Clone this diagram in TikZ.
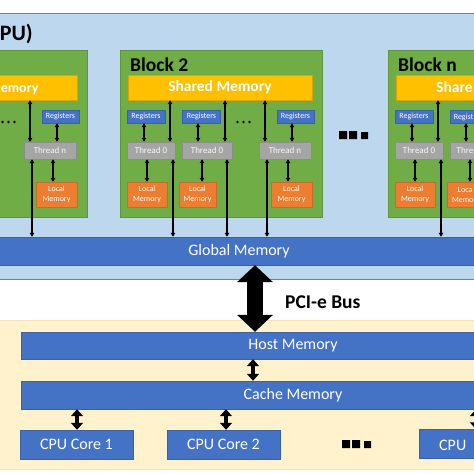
\documentclass[tikz,border=0pt]{standalone}
\usepackage{fontspec}
\setmainfont{Carlito}
\usetikzlibrary{arrows.meta}
\definecolor{panelblue}{HTML}{BDD7EE}
\definecolor{panelline}{HTML}{7F7F7F}
\definecolor{cream}{HTML}{FFF2CC}
\definecolor{creamline}{HTML}{F2E3BC}
\definecolor{ogreen}{HTML}{70AD47}
\definecolor{oyellow}{HTML}{FFC000}
\definecolor{oblue}{HTML}{4472C4}
\definecolor{ogray}{HTML}{A5A5A5}
\definecolor{oorange}{HTML}{ED7D31}
\tikzset{
  ofbox/.style={fill=#1, draw=#1!85!black, line width=0.4pt, inner sep=0pt, text=white},
  greenbox/.style={ofbox=ogreen},
  sharedfont/.style={font=\fontsize{15.5}{18}\selectfont\bfseries, text=white},
  sharedbox/.style={ofbox=oyellow, sharedfont, minimum width=184pt, minimum height=25pt},
  regfont/.style={font=\fontsize{8}{9}\selectfont, text=white},
  regbox/.style={ofbox=oblue, minimum width=38pt, minimum height=13pt, regfont},
  thrfont/.style={text=white!95!gray, font=\fontsize{9}{10}\selectfont},
  thrbox/.style={ofbox=ogray, minimum width=48pt, minimum height=17pt, thrfont},
  locfont/.style={font=\fontsize{8}{10}\selectfont, text=white},
  locbox/.style={ofbox=oorange, minimum width=40pt, minimum height=25pt, align=center, locfont},
  frag/.style={inner sep=0pt},
  barbox/.style={ofbox=oblue, font=\fontsize{16}{18}\selectfont},
  corebox/.style={ofbox=oblue, minimum width=113pt, minimum height=29pt, font=\fontsize{16}{18}\selectfont},
  tarr/.style={line width=1.2pt, {Triangle[length=4pt,width=4.5pt]}-{Triangle[length=4pt,width=4.5pt]}},
  marr/.style={line width=3.5pt, {Triangle[length=7pt,width=12pt]}-{Triangle[length=7pt,width=12pt]}},
  barr/.style={line width=16pt, {Triangle[length=17pt,width=35pt]}-{Triangle[length=17pt,width=35pt]}},
  bold label/.style={font=\fontsize{19.5}{22}\selectfont\bfseries, text=black, inner sep=0pt},
}
% column 1 of a block: nodes + arrows (prefix)
\newcommand\colOne[1]{%
  \node[regbox] (#1ra) at (146,116.5) {Registers};
  \node[thrbox] (#1ta) at (151,150.5) {Thread 0};
  \node[locbox] (#1la) at (147,194.5) {Local\\Memory};
  \coordinate (#1xra) at (144,0);  \coordinate (#1xla) at (147,0);
  \coordinate (#1xsa) at (170,0);  \coordinate (#1xga) at (173,0);
  \draw[tarr] (#1xra |- #1ra.south) -- (#1xra |- #1ta.north);
  \draw[tarr] (#1xla |- #1ta.south) -- (#1xla |- #1la.north);
  \draw[tarr] (#1xsa |- #1sh.south) -- (#1xsa |- #1ta.north);
  \draw[tarr] (#1xga |- #1ta.south) -- (#1xga |- gm.north);}
% column 2 boxes (texts given)
\newcommand\colTwo[4]{%
  \node[regbox] (#1rb) at (201.5,116.5) {#2};
  \node[thrbox, minimum width=50pt] (#1tb) at (207,150.5) {#3};
  \node[locbox, minimum width=37pt] (#1lb) at (197.5,194.5) {#4};
  \coordinate (#1xrb) at (198,0);  \coordinate (#1xlb) at (202,0);
  \coordinate (#1xsb) at (225,0);  \coordinate (#1xgb) at (227,0);
  \draw[tarr] (#1xrb |- #1rb.south) -- (#1xrb |- #1tb.north);
  \draw[tarr] (#1xlb |- #1tb.south) -- (#1xlb |- #1lb.north);
  \draw[tarr] (#1xsb |- #1sh.south) -- (#1xsb |- #1tb.north);
  \draw[tarr] (#1xgb |- #1tb.south) -- (#1xgb |- gm.north);}
% column n
\newcommand\colN[1]{%
  \node[regbox, minimum width=37pt] (#1rn) at (295.5,116.5) {Registers};
  \node[thrbox, minimum width=52pt] (#1tn) at (285,150.5) {Thread n};
  \node[locbox, minimum width=41pt] (#1ln) at (291.5,194.5) {Local\\Memory};
  \coordinate (#1xrn) at (292,0);  \coordinate (#1xln) at (288,0);
  \coordinate (#1xsn) at (265,0);  \coordinate (#1xgn) at (267,0);
  \draw[tarr] (#1xrn |- #1rn.south) -- (#1xrn |- #1tn.north);
  \draw[tarr] (#1xln |- #1tn.south) -- (#1xln |- #1ln.north);
  \draw[tarr] (#1xsn |- #1sh.south) -- (#1xsn |- #1tn.north);
  \draw[tarr] (#1xgn |- #1tn.south) -- (#1xgn |- gm.north);}
\newcommand\smalldots{\fill (237.5,122) circle (1.3pt) (243.5,122) circle (1.3pt) (249.5,122) circle (1.3pt);}
\begin{document}
\begin{tikzpicture}[x=1pt,y=-1pt]
\useasboundingbox (0,0) rectangle (474,474);
\fill[white] (0,0) rectangle (474,474);
\clip (0,0) rectangle (474,474);
% GPU panel
\node[fill=panelblue, draw=panelline, line width=0.8pt, minimum width=560pt, minimum height=266pt, inner sep=0pt] (gpu) at (237,146) {};
\node[bold label, font=\fontsize{22}{24}\selectfont\bfseries, anchor=base east] (gpulbl) at (33,40) {PU)};
% global memory
\node[barbox, minimum width=652pt, minimum height=28pt] (gm) at (239,251) {Global Memory};
% block 1 (partly visible)
\begin{scope}[xshift=-235pt]
  \node[greenbox, minimum width=202pt, minimum height=167pt] (b1g) at (221.5,134) {};
  \node[sharedbox] (b1sh) at (220,87.5) {};
  \node[sharedfont, font=\fontsize{14}{16}\selectfont\bfseries, frag, anchor=base west] (b1shtxt) at (235.6,92) {emory};
  \colN{b1}
  \smalldots
\end{scope}
% block 2
\begin{scope}
  \node[greenbox, minimum width=202pt, minimum height=167pt] (b2g) at (221.5,134) {};
  \node[bold label, anchor=base west] (b2lbl) at (130,71) {Block 2};
  \node[sharedbox] (b2sh) at (220,87.5) {Shared Memory};
  \colOne{b2}
  \colTwo{b2}{Registers}{Thread 0}{Local\\Memory}
  \colN{b2}
  \smalldots
\end{scope}
% block n (partly visible)
\begin{scope}[xshift=268pt]
  \node[greenbox, minimum width=202pt, minimum height=167pt] (bng) at (221.5,134) {};
  \node[bold label, anchor=base west] (bnlbl) at (130,71) {Block n};
  \node[sharedbox] (bnsh) at (220,87.5) {};
  \node[sharedfont, frag, anchor=base west] (bnshtxt) at (168,92) {Share};
  \colOne{bn}
  \colTwo{bn}{}{}{}
  \node[regfont, frag, anchor=base east] (bnrbtxt) at (205.5,119.5) {Regist};
  \node[thrfont, frag, anchor=base east] (bntbtxt) at (205.5,153.5) {Thre};
  \node[locfont, frag, anchor=base west] (bnlbtxt1) at (189.5,192) {Loca};
  \node[locfont, frag, anchor=base west] (bnlbtxt2) at (183.8,202) {Memo};
\end{scope}
% ellipsis between blocks
\fill (339,131) rectangle (347,139) (349,131) rectangle (357,139) (361,132) rectangle (368,139);
% CPU panel
\node[fill=cream, draw=creamline, line width=0.6pt, minimum width=560pt, minimum height=149pt, inner sep=0pt] (cpu) at (237,394.5) {};
\node[barbox, minimum width=544pt, minimum height=27pt] (hm) at (293,345.5) {Host Memory};
\node[barbox, minimum width=544pt, minimum height=28pt] (cm) at (293,395) {Cache Memory};
\node[corebox] (c1) at (76.5,444.5) {CPU Core 1};
\node[corebox] (c2) at (223.5,444.5) {CPU Core 2};
\node[corebox] (cn) at (475.5,444) {};
\node[font=\fontsize{16}{18}\selectfont, text=white, frag, anchor=base west] (cntxt) at (439,450) {CPU};
\fill (342,440) rectangle (350,448) (352,440) rectangle (360,448) (364,441) rectangle (371,448);
% arrows
\coordinate (xpci) at (255,0);
\coordinate (xhc) at (253,0);
\coordinate (xc1) at (77,0);
\coordinate (xc2) at (226,0);
\coordinate (xcn) at (476,0);
\draw[barr] (xpci |- gm.south) -- (xpci |- hm.north);
\node[bold label, anchor=base west] (pci) at (285,308) {PCI-e Bus};
\draw[marr] (xhc |- hm.south) -- (xhc |- cm.north);
\draw[marr] (xc1 |- cm.south) -- (xc1 |- c1.north);
\draw[marr] (xc2 |- cm.south) -- (xc2 |- c2.north);
\draw[marr] (xcn |- cm.south) -- (xcn |- cn.north);
\end{tikzpicture}
\end{document}
